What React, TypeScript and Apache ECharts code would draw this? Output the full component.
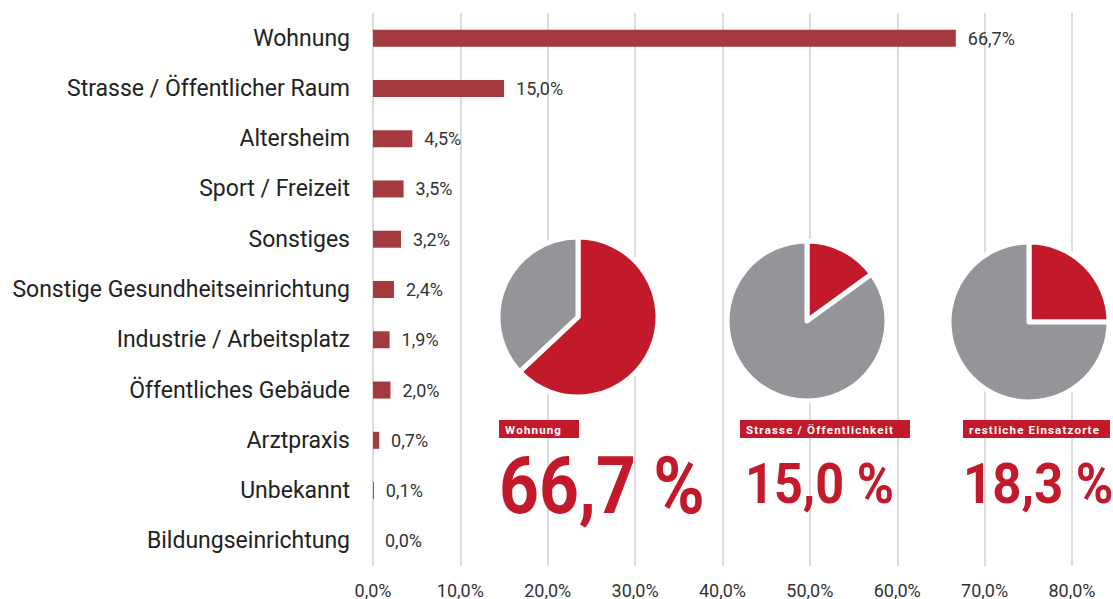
import React, { useEffect, useRef } from "react";
import * as echarts from "echarts";

const categories = [
  "Wohnung",
  "Strasse / Öffentlicher Raum",
  "Altersheim",
  "Sport / Freizeit",
  "Sonstiges",
  "Sonstige Gesundheitseinrichtung",
  "Industrie / Arbeitsplatz",
  "Öffentliches Gebäude",
  "Arztpraxis",
  "Unbekannt",
  "Bildungseinrichtung",
];
const values = [66.7, 15.0, 4.5, 3.5, 3.2, 2.4, 1.9, 2.0, 0.7, 0.1, 0.0];
const xTicks = { min: 0, max: 80, interval: 10 };

const pieTitles = ["Wohnung", "Strasse / Öffentlichkeit", "restliche Einsatzorte"];
const pieLabels = ["66,7 %", "15,0 %", "18,3 %"];
// red share as drawn in each pie
const pieShares = [63, 15, 25];

const RED = "#c21a2b";
const GRAY = "#939598";
const BAR = "#a4393f";
const FONT = "Roboto, 'Noto Sans', sans-serif";

const fmt = (v: number) => v.toFixed(1).replace(".", ",") + "%";

export default function App() {
  const ref = useRef<HTMLDivElement>(null);
  useEffect(() => {
    if (!ref.current) return;
    const chart = echarts.init(ref.current, null, { renderer: "svg" });

    const pieCenters: [number, number][] = [
      [578, 317],
      [807, 321],
      [1029, 322],
    ];
    const boxes = [
      { x: 499, w: 80 },
      { x: 740, w: 170 },
      { x: 963, w: 147 },
    ];
    const bigText = [
      { x: 499, y: 485, size: 80, sx: 0.87 },
      { x: 745, y: 484, size: 56, sx: 0.9 },
      { x: 963, y: 484, size: 56, sx: 0.91 },
    ];

    const pieSeries = pieShares.map((s, i) => ({
      type: "pie",
      center: pieCenters[i],
      radius: 80,
      startAngle: 90,
      clockwise: true,
      silent: true,
      label: { show: false },
      labelLine: { show: false },
      itemStyle: { borderColor: "#fff", borderWidth: 5 },
      data: [
        { value: s, name: pieTitles[i], itemStyle: { color: RED } },
        { value: 100 - s, name: "Rest", itemStyle: { color: GRAY } },
      ],
      z: 5,
    }));

    const graphics: any[] = [];
    pieTitles.forEach((t, i) => {
      graphics.push({
        type: "rect",
        shape: { x: boxes[i].x, y: 420, width: boxes[i].w, height: 18 },
        style: { fill: RED },
        z: 10,
      });
      graphics.push({
        type: "text",
        x: boxes[i].x + 6,
        y: 429.5,
        style: {
          text: t.split("").join("\u200A"),
          fill: "#fff",
          font: `bold 11.5px ${FONT}`,
          textVerticalAlign: "middle",
        },
        z: 11,
      });
      graphics.push({
        type: "text",
        x: bigText[i].x,
        y: bigText[i].y,
        scaleX: bigText[i].sx,
        style: {
          text: pieLabels[i],
          fill: RED,
          font: `bold ${bigText[i].size}px ${FONT}`,
          textVerticalAlign: "middle",
        },
        z: 11,
      });
    });

    chart.setOption({
      animation: false,
      grid: { left: 373, right: 41, top: 13, bottom: 33, containLabel: false },
      xAxis: {
        type: "value",
        min: xTicks.min,
        max: xTicks.max,
        interval: xTicks.interval,
        axisLine: { show: false },
        axisTick: { show: false },
        splitLine: { show: true, lineStyle: { color: "#dcdcdc", width: 2 } },
        axisLabel: {
          formatter: (v: number) => fmt(v),
          fontSize: 18,
          color: "#333",
          fontFamily: FONT,
          margin: 15,
        },
      },
      yAxis: {
        type: "category",
        data: categories,
        inverse: true,
        axisLine: { show: false },
        axisTick: { show: false },
        axisLabel: { fontSize: 23, color: "#222", fontFamily: FONT, margin: 23 },
      },
      series: [
        {
          type: "bar",
          data: values,
          barWidth: 17,
          itemStyle: { color: BAR },
          label: {
            show: true,
            position: "right",
            distance: 12,
            formatter: (p: any) => fmt(p.value),
            fontSize: 18,
            color: "#333",
            fontFamily: FONT,
          },
          z: 2,
        },
        ...pieSeries,
      ],
      graphic: graphics,
    });
    return () => chart.dispose();
  }, []);
  return (
    <div
      ref={ref}
      style={{ position: "fixed", left: 0, top: 0, width: 1113, height: 599, background: "#fff" }}
    />
  );
}
